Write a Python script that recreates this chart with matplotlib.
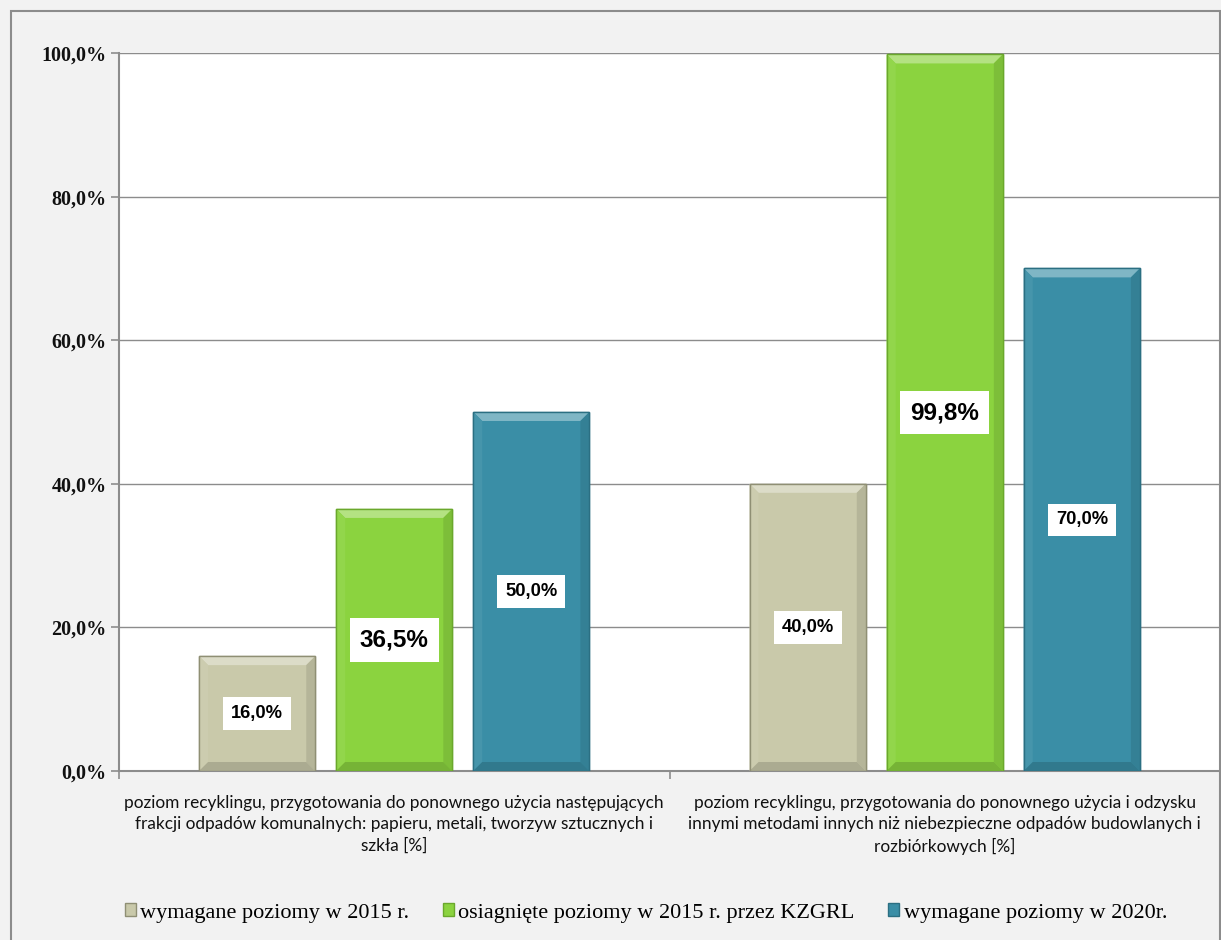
import matplotlib
matplotlib.use("Agg")
import matplotlib.pyplot as plt
from matplotlib.patches import Rectangle, Patch, Polygon
import matplotlib.colors as mcolors
import numpy as np

categories = [
    "poziom recyklingu, przygotowania do ponownego użycia następujących\nfrakcji odpadów komunalnych: papieru, metali, tworzyw sztucznych i\nszkła [%]",
    "poziom recyklingu, przygotowania do ponownego użycia i odzysku\ninnymi metodami innych niż niebezpieczne odpadów budowlanych i\nrozbiórkowych [%]",
]
series_names = ["wymagane poziomy w 2015 r.", "osiagnięte poziomy w 2015 r. przez KZGRL", "wymagane poziomy w 2020r."]
req_2015 = [16.0, 40.0]
ach_2015 = [36.5, 99.8]
req_2020 = [50.0, 70.0]
y_ticks = [0, 20, 40, 60, 80, 100]

colors = ["#c9c9aa", "#8bd33f", "#3a8ea6"]
edges = ["#8f8f74", "#6aa82c", "#2b6f82"]
label_sizes = [13.2, 17.5, 13.2]

W, H = 1221, 940
bg = "#f2f2f2"
fig = plt.figure(figsize=(W/100, H/100), dpi=100, facecolor=bg)
fig.patches.append(Rectangle((11/W, -0.05), (1220-11)/W, 1 - 11/H + 0.05,
                             transform=fig.transFigure, fill=False, edgecolor="#8c8c8c", linewidth=1.5))

ax_l, ax_r, ax_t, ax_b = 119, 1220, 53, 771
ax = fig.add_axes([ax_l/W, 1-ax_b/H, (ax_r-ax_l)/W, (ax_b-ax_t)/H])
ax.set_facecolor("white")

x = np.arange(len(categories))
offset = 0.249
width = 0.211
series = [req_2015, ach_2015, req_2020]

ax.set_xlim(-0.5, 1.5)
ax.set_ylim(0, 100)
px_x = 2.0 / (ax_r - ax_l)
px_y = 100.0 / (ax_b - ax_t)
bev = 9


def shade(c, f):
    r, g, b = mcolors.to_rgb(c)
    if f > 0:
        return (r + (1-r)*f, g + (1-g)*f, b + (1-b)*f)
    return (r*(1+f), g*(1+f), b*(1+f))


for i, vals in enumerate(series):
    pos = x + (i - 1) * offset
    bars = ax.bar(pos, vals, width, color=colors[i], edgecolor=edges[i], linewidth=1.0, zorder=3)
    for b, v in zip(bars, vals):
        x0, x1 = b.get_x(), b.get_x() + b.get_width()
        y0, y1 = 0, b.get_height()
        bx, by = bev * px_x, bev * px_y
        ax.add_patch(Polygon([(x0, y1), (x1, y1), (x1-bx, y1-by), (x0+bx, y1-by)],
                             closed=True, facecolor=shade(colors[i], 0.35), edgecolor="none", zorder=3.5))
        ax.add_patch(Polygon([(x0, y0), (x0, y1), (x0+bx, y1-by), (x0+bx, y0+by)],
                             closed=True, facecolor=shade(colors[i], 0.06), edgecolor="none", zorder=3.5))
        ax.add_patch(Polygon([(x1, y0), (x1, y1), (x1-bx, y1-by), (x1-bx, y0+by)],
                             closed=True, facecolor=shade(colors[i], -0.10), edgecolor="none", zorder=3.5))
        ax.add_patch(Polygon([(x0, y0), (x1, y0), (x1-bx, y0+by), (x0+bx, y0+by)],
                             closed=True, facecolor=shade(colors[i], -0.15), edgecolor="none", zorder=3.5))
        ax.add_patch(Rectangle((x0, y0), x1-x0, y1-y0, fill=False, edgecolor=edges[i], linewidth=1.0, zorder=3.6))
        ax.text((x0+x1)/2, v/2, f"{v:.1f}%".replace(".", ","),
                ha="center", va="center", fontsize=label_sizes[i], fontweight="bold",
                family="Liberation Sans", color="black", zorder=5,
                bbox=dict(boxstyle="square,pad=0.42", facecolor="white", edgecolor="none"))

ax.set_yticks(y_ticks)
ax.set_yticklabels([f"{t:.1f}%".replace(".", ",") for t in y_ticks],
                   fontsize=14.5, fontweight="bold", family="Liberation Serif", color="#111111")
ax.yaxis.grid(True, color="#8c8c8c", linewidth=1.0, zorder=0)
ax.set_axisbelow(True)

ax.set_xticks([-0.5, 0.5, 1.5])
ax.set_xticklabels([])
ax.set_xticks(x, minor=True)
ax.set_xticklabels(categories, minor=True, fontsize=12.4, family="Lato", color="#111111",
                   linespacing=1.42)
ax.tick_params(axis="x", which="minor", length=0, pad=17)
ax.tick_params(axis="x", which="major", length=6, color="#8c8c8c", width=1.2)
ax.tick_params(axis="y", length=6, color="#8c8c8c", width=1.2, pad=3)

for s in ["top", "right"]:
    ax.spines[s].set_visible(False)
for s in ["left", "bottom"]:
    ax.spines[s].set_color("#8c8c8c")
    ax.spines[s].set_linewidth(1.5)

handles = [Patch(facecolor=colors[i], edgecolor=edges[i]) for i in range(3)]
fig.legend(handles, series_names, loc="center", bbox_to_anchor=(646/W, 1-913/H),
           ncol=3, frameon=False, prop={"family": "Liberation Serif", "size": 16},
           handlelength=0.5, handleheight=0.5, handletextpad=0.2, columnspacing=1.5)

fig.savefig("out.png", dpi=100, facecolor=bg)
